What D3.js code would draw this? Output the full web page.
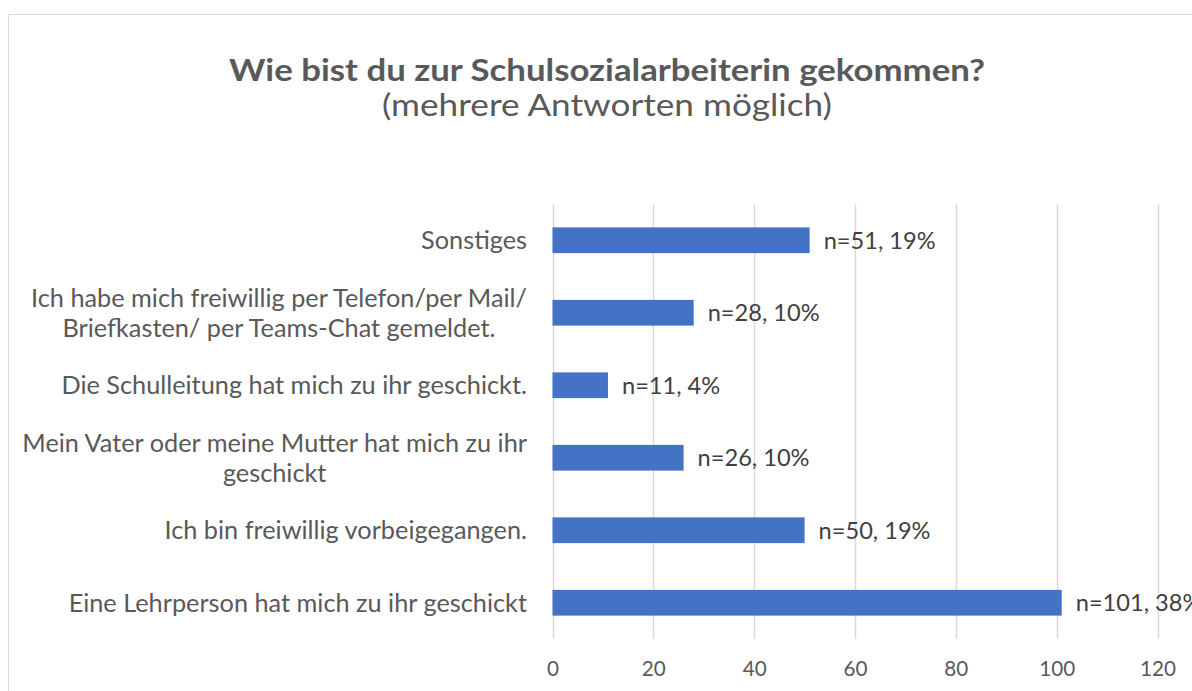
<!DOCTYPE html>
<html><head><meta charset="utf-8">
<script src="https://cdn.jsdelivr.net/npm/d3@7"></script>
<style>body{margin:0;background:#fff}svg{display:block}</style>
</head><body>
<svg id="c" width="1192" height="691"></svg>
<script>
const categories = [
  ["Sonstiges"],
  ["Ich habe mich freiwillig per Telefon/per Mail/", "Briefkasten/ per Teams-Chat gemeldet."],
  ["Die Schulleitung hat mich zu ihr geschickt."],
  ["Mein Vater oder meine Mutter hat mich zu ihr", "geschickt"],
  ["Ich bin freiwillig vorbeigegangen."],
  ["Eine Lehrperson hat mich zu ihr geschickt"]
];
const counts = [51, 28, 11, 26, 50, 101];
const percents = [19, 10, 4, 10, 19, 38];
const xTicks = [0, 20, 40, 60, 80, 100, 120];
const titleText = "Wie bist du zur Schulsozialarbeiterin gekommen?";
const subtitleText = "(mehrere Antworten möglich)";

const FONT = "Lato, 'Open Sans', sans-serif";
const svg = d3.select("#c");
const textCol = "#595959";

// chart border
svg.append("rect").attr("x", 8.5).attr("y", 14.5).attr("width", 1300).attr("height", 800)
  .attr("fill", "none").attr("stroke", "#d9d9d9").attr("stroke-width", 1);

svg.append("text").attr("x", 607).attr("y", 81).attr("text-anchor", "middle")
  .attr("font-family", FONT).attr("font-weight", "bold").attr("font-size", 31)
  .attr("textLength", 756).attr("lengthAdjust", "spacingAndGlyphs")
  .attr("fill", textCol).text(titleText);
svg.append("text").attr("x", 607).attr("y", 116).attr("text-anchor", "middle")
  .attr("font-family", FONT).attr("font-size", 31)
  .attr("textLength", 450).attr("lengthAdjust", "spacingAndGlyphs")
  .attr("fill", textCol).text(subtitleText);

const x = d3.scaleLinear().domain([0, 120]).range([552.5, 1157.5]);
const y = d3.scaleBand().domain(d3.range(categories.length)).range([204, 639]).paddingInner(0.645).paddingOuter(0.3225);

// gridlines
svg.append("g").selectAll("line").data(xTicks).join("line")
  .attr("x1", d => Math.round(x(d)) + 0.5).attr("x2", d => Math.round(x(d)) + 0.5)
  .attr("y1", 204).attr("y2", 639)
  .attr("stroke", "#d9d9d9").attr("stroke-width", 1.5);

// bars
svg.append("g").selectAll("rect").data(counts).join("rect")
  .attr("x", x(0)).attr("y", (d, i) => y(i))
  .attr("width", d => x(d) - x(0)).attr("height", y.bandwidth())
  .attr("fill", "#4472C4");

// category labels
const probe = svg.append("text").attr("font-family", FONT).attr("font-size", 20)
  .text("Mein Vater oder meine Mutter hat mich zu ihr");
const catFs = 20 * 505 / probe.node().getComputedTextLength();
probe.remove();

const labG = svg.append("g");
categories.forEach((lines, i) => {
  const cy = y(i) + y.bandwidth() / 2;
  const n = lines.length;
  const lh = 30;
  const widths = lines.map(l => {
    const p = svg.append("text").attr("font-family", FONT).attr("font-size", catFs).text(l);
    const w = p.node().getComputedTextLength(); p.remove(); return w;
  });
  const bw = d3.max(widths);
  const cx = 527 - bw / 2;
  lines.forEach((l, k) => {
    labG.append("text").attr("x", cx).attr("y", cy + (k - (n - 1) / 2) * lh)
      .attr("dy", "0.35em").attr("text-anchor", "middle")
      .attr("font-family", FONT).attr("font-size", catFs).attr("fill", textCol).text(l);
  });
});

// value labels
const probe2 = svg.append("text").attr("font-family", FONT).attr("font-size", 20).text("n=51, 19%");
const valFs = 20 * 112 / probe2.node().getComputedTextLength();
probe2.remove();
svg.append("g").selectAll("text").data(counts).join("text")
  .attr("x", d => x(d) + 14).attr("y", (d, i) => y(i) + y.bandwidth() / 2)
  .attr("dy", "0.35em").attr("font-family", FONT).attr("font-size", valFs)
  .attr("fill", "#404040").text((d, i) => `n=${d}, ${percents[i]}%`);

// x axis tick labels
const probe3 = svg.append("text").attr("font-family", FONT).attr("font-size", 20).text("100");
const tickFs = 20 * 36 / probe3.node().getComputedTextLength();
probe3.remove();
const axis = d3.axisBottom(x).tickValues(xTicks).tickSize(0).tickPadding(0);
const ax = svg.append("g").attr("transform", "translate(0,660)").call(axis);
ax.select(".domain").remove();
ax.selectAll("text").attr("font-family", FONT).attr("font-size", tickFs).attr("fill", textCol)
  .attr("dy", "0.75em");
</script>
</body></html>
